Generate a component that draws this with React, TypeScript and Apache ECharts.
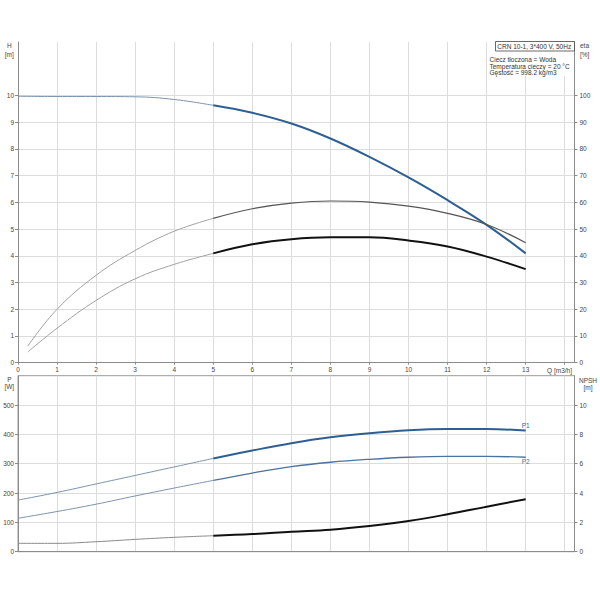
import React, { useEffect, useRef } from "react";
import * as echarts from "echarts";

// ---- data ----
const flowPts = [0, 1, 2, 3, 4, 5, 6, 7, 8, 9, 10, 11, 12, 13];
const headM = [9.97, 9.96, 9.96, 9.95, 9.85, 9.63, 9.35, 8.95, 8.39, 7.7, 6.93, 6.08, 5.16, 4.09];
const flowEta = [0.25, 1, 2, 3, 4, 5, 6, 7, 8, 9, 10, 11, 12, 13];
const etaUpper = [6.2, 20, 32.7, 42, 49.2, 54, 57.6, 59.7, 60.5, 60.1, 58.6, 55.9, 51.7, 44.9];
const etaLower = [4.0, 12.9, 23.3, 31.4, 36.8, 40.9, 44.3, 46.2, 46.9, 46.9, 45.7, 43.5, 39.7, 35.0];
const powerP1 = [176, 202, 231, 260, 289, 318, 345, 370, 390, 404, 414, 418, 418, 413];
const powerP2 = [114, 137, 162, 190, 217, 243, 268, 290, 305, 315, 322, 325, 325, 322];
const npshM = [0.57, 0.57, 0.68, 0.84, 0.98, 1.09, 1.2, 1.36, 1.5, 1.75, 2.09, 2.55, 3.07, 3.58];

const qTickLabels = [0, 1, 2, 3, 4, 5, 6, 7, 8, 9, 10, 11, 12, 13];
const qTickMarks = [0, 1, 2, 3, 4, 5, 6, 7, 8, 9, 10, 11, 12, 13, 14];
const hTicks = [0, 1, 2, 3, 4, 5, 6, 7, 8, 9, 10];
const etaTicks = [0, 10, 20, 30, 40, 50, 60, 70, 80, 90, 100];
const pTicks = [0, 100, 200, 300, 400, 500];
const npshTicks = [0, 2, 4, 6, 8, 10];

const pumpTitle = "CRN 10-1, 3*400 V, 50Hz";
const infoLines = ["Ciecz tłoczona = Woda", "Temperatura cieczy = 20 °C", "Gęstość = 998.2 kg/m3"];
const dutyStart = 5;

const FONT = "Liberation Sans, Arial, sans-serif";
const LABEL_COLOR = "#444";
const AXIS_COLOR = "#8c8c8c";
const GRID_COLOR = "#dcdcdc";
const BLUE = "#2e5f92";
const BLUE_THIN = "#7b93ac";

function seg(xs: number[], ys: number[], lo: number, hi: number): any[] {
  const out: any[] = [];
  xs.forEach((x, i) => {
    if (x >= lo && x <= hi) out.push([x, ys[i]]);
  });
  return out;
}

function withEndLabel(data: any[], text: string, position: string, color: string) {
  const copy = data.slice();
  const last = copy[copy.length - 1];
  copy[copy.length - 1] = {
    value: last,
    symbol: "circle",
    symbolSize: 0.5,
    itemStyle: { color: "rgba(0,0,0,0)", borderWidth: 0 },
    label: {
      show: true,
      position,
      distance: 1,
      formatter: text,
      color,
      opacity: 1,
      fontSize: 6.5,
      fontFamily: FONT,
    },
  };
  return copy;
}

function line(name: string, data: any[], xi: number, yi: number, color: string, width: number) {
  return {
    name,
    type: "line",
    xAxisIndex: xi,
    yAxisIndex: yi,
    data,
    symbol: "none",
    smooth: 0.4,
    lineStyle: { color, width },
    itemStyle: { color },
    emphasis: { disabled: true },
    z: 3,
  };
}

const labelFmt = (allowed: number[]) => (v: number) =>
  allowed.indexOf(Math.round(v * 1000) / 1000) >= 0 ? String(v) : "";

function xAxisCfg(gridIndex: number, showLabels: boolean) {
  return {
    type: "value",
    gridIndex,
    min: 0,
    max: 14.25,
    interval: 1,
    axisLine: { show: true, onZero: false, lineStyle: { color: AXIS_COLOR, width: 1 } },
    axisTick: showLabels
      ? { show: true, length: 2, lineStyle: { color: AXIS_COLOR }, customValues: qTickMarks }
      : { show: false },
    axisLabel: showLabels
      ? {
          show: true,
          fontSize: 6.5,
          color: LABEL_COLOR,
          fontFamily: FONT,
          margin: 3,
          customValues: qTickLabels,
          formatter: labelFmt(qTickLabels),
        }
      : { show: false },
    splitLine: { show: true, lineStyle: { color: GRID_COLOR, width: 1 } },
  };
}

function yAxisCfg(
  gridIndex: number,
  position: string,
  max: number,
  interval: number,
  ticks: number[],
  split: boolean
) {
  return {
    type: "value",
    gridIndex,
    position,
    min: 0,
    max,
    interval,
    axisLine: { show: true, onZero: false, lineStyle: { color: AXIS_COLOR, width: 1 } },
    axisTick: { show: true, length: 3, lineStyle: { color: AXIS_COLOR }, customValues: ticks },
    axisLabel: {
      show: true,
      fontSize: 6.5,
      color: LABEL_COLOR,
      fontFamily: FONT,
      margin: position === "left" ? 4 : 5,
      customValues: ticks,
      formatter: labelFmt(ticks),
    },
    splitLine: { show: split, lineStyle: { color: GRID_COLOR, width: 1 } },
  };
}

function txt(text: string, x: number, y: number, align: string = "left", color: string = LABEL_COLOR) {
  return {
    type: "text",
    x,
    y,
    z: 20,
    style: {
      text,
      fill: color,
      fontSize: 6.5,
      fontFamily: FONT,
      textAlign: align,
      textVerticalAlign: "middle",
    },
  };
}

export default function App() {
  const ref = useRef<HTMLDivElement>(null);

  useEffect(() => {
    if (!ref.current) return;
    const chart = echarts.init(ref.current, null, { renderer: "svg" });

    const series: any[] = [
      // head
      line("H", seg(flowPts, headM, 0, dutyStart), 0, 0, BLUE_THIN, 1),
      line("H duty", seg(flowPts, headM, dutyStart, 13), 0, 0, BLUE, 2),
      // efficiencies
      line("eta1", seg(flowEta, etaUpper, 0, dutyStart), 0, 1, "#a0a0a0", 1),
      line("eta1 duty", seg(flowEta, etaUpper, dutyStart, 13), 0, 1, "#555", 1.2),
      line("eta2", seg(flowEta, etaLower, 0, dutyStart), 0, 1, "#a0a0a0", 1),
      line("eta2 duty", seg(flowEta, etaLower, dutyStart, 13), 0, 1, "#111", 2),
      // power
      line("P1", seg(flowPts, powerP1, 0, dutyStart), 1, 2, BLUE_THIN, 1),
      line(
        "P1 duty",
        withEndLabel(seg(flowPts, powerP1, dutyStart, 13), "P1", "top", BLUE),
        1,
        2,
        BLUE,
        2
      ),
      line("P2", seg(flowPts, powerP2, 0, dutyStart), 1, 2, BLUE_THIN, 1),
      line(
        "P2 duty",
        withEndLabel(seg(flowPts, powerP2, dutyStart, 13), "P2", "bottom", "#4a73a0"),
        1,
        2,
        "#4a73a0",
        1.3
      ),
      // NPSH
      line("NPSH", seg(flowPts, npshM, 0, dutyStart), 1, 3, "#8a8a8a", 1),
      line("NPSH duty", seg(flowPts, npshM, dutyStart, 13), 1, 3, "#111", 2),
    ];

    const graphic: any[] = [
      // axis names
      txt("H", 9.3, 45.5, "center"),
      txt("[m]", 9.3, 54, "center"),
      txt("eta", 580, 45.7, "left"),
      txt("[%]", 580, 54.2, "left"),
      txt("Q [m3/h]", 572, 370, "right"),
      txt("P", 9.3, 379.3, "center"),
      txt("[W]", 9.3, 386.8, "center"),
      txt("NPSH", 588, 380.3, "center"),
      txt("[m]", 588, 387.6, "center"),
      // info block
      {
        type: "rect",
        z: 15,
        shape: { x: 488, y: 51.5, width: 86, height: 24.5 },
        style: { fill: "#fff", stroke: null },
      },
      {
        type: "rect",
        z: 16,
        shape: { x: 495.5, y: 41.5, width: 79, height: 9.5 },
        style: { fill: "#fff", stroke: "#444", lineWidth: 0.8 },
      },
      txt(pumpTitle, 497.3, 46.4, "left", "#333"),
      ...infoLines.map((t, i) => txt(t, 489.5, 59.5 + i * 6.6, "left", "#333")),
    ];

    chart.setOption({
      animation: false,
      textStyle: { fontFamily: FONT },
      grid: [
        { left: 18, right: 25.5, top: 42, bottom: 237.3, show: false },
        {
          left: 18,
          right: 25.5,
          top: 375.7,
          bottom: 48.3,
          show: true,
          borderColor: "#9a9a9a",
          borderWidth: 1,
          backgroundColor: "transparent",
        },
      ],
      xAxis: [xAxisCfg(0, true), xAxisCfg(1, false)],
      yAxis: [
        yAxisCfg(0, "left", 12, 1, hTicks, true),
        yAxisCfg(0, "right", 120, 10, etaTicks, false),
        yAxisCfg(1, "left", 600, 100, pTicks, true),
        yAxisCfg(1, "right", 12, 2, npshTicks, false),
      ],
      series,
      graphic,
    });

    return () => {
      chart.dispose();
    };
  }, []);

  return (
    <div
      ref={ref}
      style={{ position: "absolute", left: 0, top: 0, width: 600, height: 600, background: "#fff" }}
    />
  );
}
